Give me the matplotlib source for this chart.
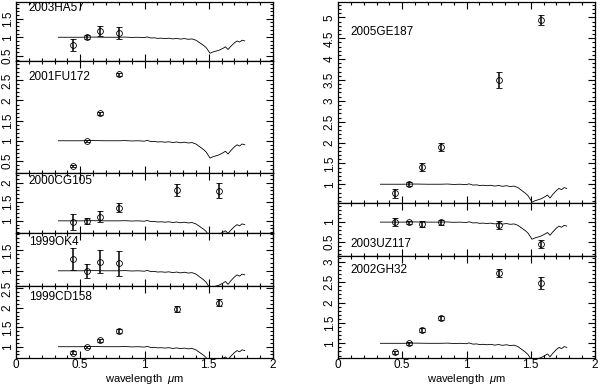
import numpy as np
import matplotlib
matplotlib.use("Agg")
import matplotlib.pyplot as plt
from matplotlib.ticker import MultipleLocator, FuncFormatter

plt.rcParams['font.family'] = ['Liberation Sans', 'DejaVu Sans']
plt.rcParams['mathtext.fontset'] = 'custom'
plt.rcParams['mathtext.it'] = 'Liberation Sans:italic'
plt.rcParams['mathtext.rm'] = 'Liberation Sans'

# photometric band centres (micron)
wave = [0.44, 0.55, 0.65, 0.80, 1.25, 1.58]

# reflectance of each object, normalised at V
ha57_val = [0.79, 1.00, 1.17, 1.11]
ha57_err = [0.15, 0.06, 0.13, 0.16]
fu172_val = [0.38, 1.00, 1.68, 2.65]
fu172_err = [0.03, 0.03, 0.03, 0.03]
cg105_val = [0.96, 1.00, 1.11, 1.35, 1.82, 1.79]
cg105_err = [0.21, 0.08, 0.14, 0.12, 0.16, 0.20]
ok4_val = [1.28, 1.00, 1.22, 1.18]
ok4_err = [0.27, 0.17, 0.28, 0.30]
cd158_val = [0.85, 1.00, 1.17, 1.41, 1.97, 2.13]
cd158_err = [0.04, 0.03, 0.04, 0.05, 0.08, 0.09]
ge187_val = [0.78, 1.00, 1.42, 1.90, 3.50, 4.94]
ge187_err = [0.11, 0.05, 0.10, 0.10, 0.20, 0.13]
uz117_val = [1.00, 1.00, 0.96, 1.00, 0.92, 0.45]
uz117_err = [0.10, 0.04, 0.07, 0.06, 0.10, 0.10]
gh32_val = [0.78, 1.00, 1.33, 1.63, 2.72, 2.47]
gh32_err = [0.04, 0.03, 0.05, 0.05, 0.10, 0.15]

# comparison spectrum
spec_wave = [0.33, 0.40, 0.50, 0.60, 0.70, 0.80, 0.85, 0.90, 0.95, 1.00,
             1.02, 1.05, 1.08, 1.10, 1.13, 1.16, 1.19, 1.22, 1.25, 1.28,
             1.31, 1.34, 1.37, 1.40, 1.43, 1.46, 1.48, 1.50, 1.51, 1.53,
             1.56, 1.58, 1.61, 1.63, 1.65, 1.67, 1.70, 1.72, 1.74, 1.76, 1.78]
spec_refl = [1.00, 1.00, 1.00, 1.005, 1.00, 1.00, 1.005, 0.995, 1.00, 0.99,
             1.01, 0.98, 0.985, 0.97, 0.975, 0.965, 0.975, 0.955, 0.97, 0.95,
             0.965, 0.945, 0.955, 0.92, 0.85, 0.78, 0.72, 0.62, 0.57, 0.60,
             0.63, 0.65, 0.70, 0.74, 0.67, 0.75, 0.85, 0.90, 0.87, 0.92, 0.90]

names = ['2003HA57', '2001FU172', '2000CG105', '1999OK4', '1999CD158',
         '2005GE187', '2003UZ117', '2002GH32']
values = [ha57_val, fu172_val, cg105_val, ok4_val, cd158_val,
          ge187_val, uz117_val, gh32_val]
errors = [ha57_err, fu172_err, cg105_err, ok4_err, cd158_err,
          ge187_err, uz117_err, gh32_err]
ylims = [(0.36, 1.95), (0.2, 2.98), (0.68, 2.26), (0.63, 1.92), (0.71, 2.56),
         (0.55, 5.37), (0.15, 1.48), (0.64, 3.14)]
label_y = [1.79, 2.59, 2.05, 1.70, 2.28, 4.66, 0.45, 2.80]

# panel boxes in pixels: x0, x1, top, bottom
boxes = [(16, 273, 2, 61), (16, 273, 61, 173), (16, 273, 173, 233),
         (16, 273, 233, 286), (16, 273, 286, 358),
         (338, 595, 2, 203), (338, 595, 203, 256), (338, 595, 256, 358)]
bottom_panels = [4, 7]

W, H = 600, 385
fig = plt.figure(figsize=(6, 3.85), dpi=100)
fmt = FuncFormatter(lambda v, p: '%g' % round(v, 2))

for i in range(8):
    x0, x1, top, bot = boxes[i]
    ax = fig.add_axes([x0 / W, 1 - bot / H, (x1 - x0) / W, (bot - top) / H])
    ax.plot(spec_wave, spec_refl, color='black', lw=0.6)
    n = len(values[i])
    ax.errorbar(wave[:n], values[i], yerr=errors[i], fmt='o', mfc='none',
                mec='black', ms=4.2, mew=0.6, ecolor='black', elinewidth=1.1,
                capsize=2, capthick=1.0)
    ax.set_xlim(0, 2)
    ax.set_ylim(*ylims[i])
    ax.xaxis.set_major_locator(MultipleLocator(0.5))
    ax.xaxis.set_minor_locator(MultipleLocator(0.1))
    ax.yaxis.set_major_locator(MultipleLocator(0.5))
    ax.yaxis.set_minor_locator(MultipleLocator(0.1))
    ax.xaxis.set_major_formatter(fmt)
    ax.yaxis.set_major_formatter(fmt)
    ax.tick_params(which='both', direction='in', top=True, right=True,
                   width=0.8)
    ax.tick_params(which='major', length=5)
    ax.tick_params(which='minor', length=2.5)
    ax.tick_params(axis='y', labelsize=8.5, pad=1.5, labelrotation=90)
    ax.tick_params(axis='x', labelsize=8.5, pad=0.5)
    for lbl in ax.get_yticklabels():
        lbl.set_va('center')
    for s in ax.spines.values():
        s.set_linewidth(0.9)
    if i in bottom_panels:
        # x label placed by baseline so the descenders stay inside the canvas
        fig.text((x0 + x1) / 2 / W, 1 - 382.4 / H, 'wavelength  $\\mu$m',
                 fontsize=8, ha='center', va='baseline')
    else:
        ax.tick_params(axis='x', labelbottom=False)
    ax.text(0.1, label_y[i], names[i], fontsize=8.5, va='center', ha='left')

fig.savefig('out.png', dpi=100)
